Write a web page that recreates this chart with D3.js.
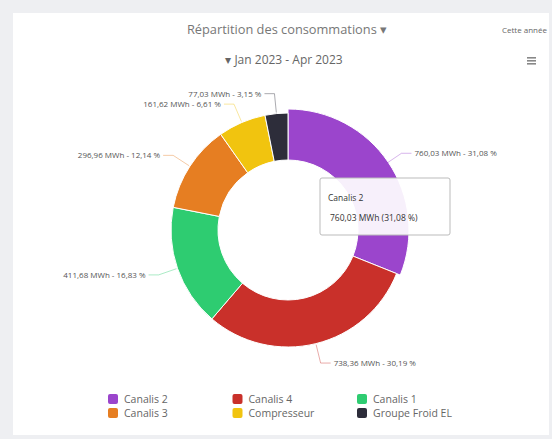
<!doctype html>
<html lang="fr">
  <head>
    <meta charset="utf-8">
    <title>Répartition des consommations</title>
    <style>
      * { margin: 0; padding: 0; border: 0; }
      body { background-color: #eeeff2; width: 552px; height: 439px; overflow: hidden; font-family: 'Open Sans', sans-serif; }
      #card { position: absolute; left: 13px; top: 13px; width: 536px; height: 422px; background: #fff; }
      svg { position: absolute; left: 0; top: 0; }
    </style>
  </head>
  <body>
    <div id="card"></div>
    <div id="plot"></div>

<script src="https://d3js.org/d3.v7.min.js"></script>
<script>

  var names  = ["Canalis 2", "Canalis 4", "Canalis 1", "Canalis 3", "Compresseur", "Groupe Froid EL"];
  var values = [760.03, 738.36, 411.68, 296.96, 161.62, 77.03];
  var colors = ["#9b45cc", "#c9302a", "#2ecc71", "#e67e22", "#f1c40f", "#2d2d3a"];
  var title = "Répartition des consommations ▾";
  var period = "▾  Jan 2023 - Apr 2023";
  var hovered = 0;

  var width = 552, height = 439;
  var cx = 288, cy = 230, r0 = 70, r1 = 117;

  var total = d3.sum(values);
  var fmt = v => d3.format(".2f")(v).replace(".", ",");
  var pct = v => fmt(v / total * 100);

  var svg = d3.select("#plot").append("svg").attr("width", width).attr("height", height);

  svg.append("text").attr("x", 287).attr("y", 34).attr("text-anchor", "middle")
    .style("font-size", "12.8px").style("fill", "#777").text(title);
  svg.append("text").attr("x", 284).attr("y", 64).attr("text-anchor", "middle")
    .style("font-size", "12px").style("fill", "#666").text(period);
  svg.append("text").attr("x", 547).attr("y", 33).attr("text-anchor", "end")
    .style("font-size", "8px").style("fill", "#666").text("Cette année");

  // menu icon
  [0, 3, 6].forEach(d => svg.append("rect").attr("x", 527).attr("y", 57 + d).attr("width", 9).attr("height", 1.6).style("fill", "#888"));

  var pie = d3.pie().sort(null).value(d => d)(values);
  var arc = d3.arc().innerRadius(r0).outerRadius(r1);
  var arcHover = d3.arc().innerRadius(r0).outerRadius(r1 + 4);

  var g = svg.append("g").attr("transform", `translate(${cx},${cy})`);
  g.selectAll("path.slice").data(pie).enter().append("path")
    .attr("class", "slice")
    .attr("d", (d, i) => i === hovered ? arcHover(d) : arc(d))
    .style("fill", (d, i) => colors[i])
    .style("stroke", "#fff").style("stroke-width", 1);

  // data labels with connectors
  pie.forEach((d, i) => {
    var a = (d.startAngle + d.endAngle) / 2;
    var s = Math.sin(a), c = -Math.cos(a);
    var p1 = [s * (r1 + 1), c * (r1 + 1)];
    var p2 = [s * (r1 + 20), c * (r1 + 20)];
    var dir = s >= 0 ? 1 : -1;
    var p3 = [p2[0] + dir * 10, p2[1]];
    g.append("path").attr("d", d3.line()([p1, p2, p3]))
      .style("fill", "none").style("stroke", colors[i]).style("stroke-width", 0.8).style("opacity", 0.5);
    g.append("text").attr("x", p3[0] + dir * 3).attr("y", p3[1] + 3)
      .attr("text-anchor", dir > 0 ? "start" : "end")
      .style("font-size", "8px").style("fill", "#555")
      .text(fmt(values[i]) + " MWh - " + pct(values[i]) + " %");
  });

  // tooltip for hovered slice
  var tip = svg.append("g").attr("transform", "translate(320,178)");
  tip.append("rect").attr("width", 130).attr("height", 57).attr("rx", 2)
    .style("fill", "rgba(255,255,255,0.92)").style("stroke", "#bbb").style("stroke-width", 1);
  tip.append("text").attr("x", 8).attr("y", 23).style("font-size", "8.5px").style("fill", "#333").text(names[hovered]);
  tip.append("text").attr("x", 10).attr("y", 43).style("font-size", "8.5px").style("fill", "#333")
    .text(fmt(values[hovered]) + " MWh (" + pct(values[hovered]) + " %)");

  // legend
  var legendX = d3.scalePoint().domain([0, 1, 2]).range([108, 357]);
  var legendY = d3.scalePoint().domain([0, 1]).range([399, 413]);
  var order = [0, 3, 1, 4, 2, 5];
  order.forEach((k, j) => {
    var col = Math.floor(j / 2), row = j % 2;
    var lg = svg.append("g").attr("transform", `translate(${legendX(col)},${legendY(row)})`);
    lg.append("rect").attr("x", 0).attr("y", -5).attr("width", 10).attr("height", 10).attr("rx", 2).style("fill", colors[k]);
    lg.append("text").attr("x", 16).attr("y", 3.5).style("font-size", "10.5px").style("fill", "#666").text(names[k]);
  });

</script>
  </body>
</html>
